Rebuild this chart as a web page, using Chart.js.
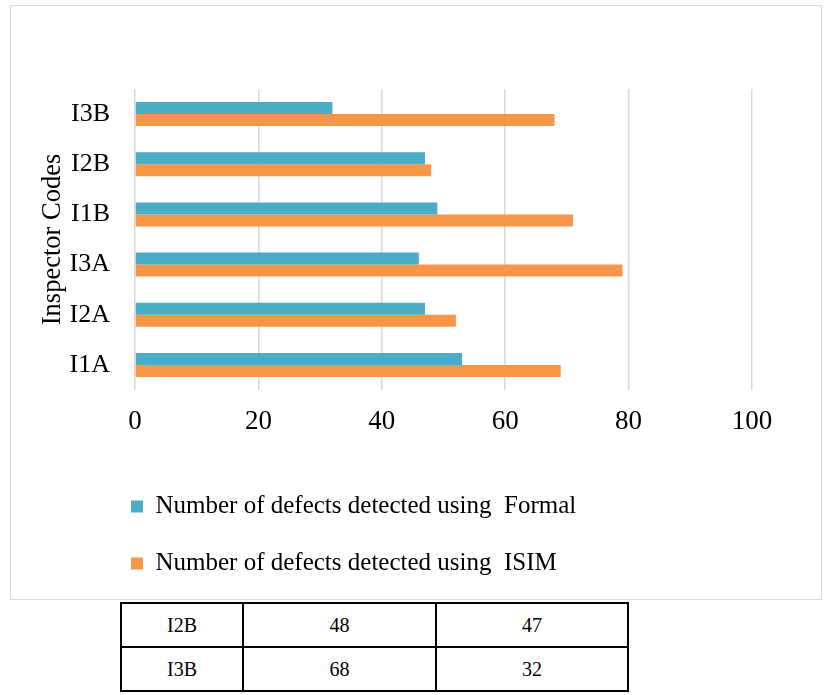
<!DOCTYPE html>
<html>
<head>
<meta charset="utf-8">
<script src="https://cdn.jsdelivr.net/npm/chart.js@4"></script>
<style>
  body { margin: 0; background: #fff; width: 824px; height: 695px; overflow: hidden; position: relative; }
  #box { position: absolute; left: 10px; top: 5px; width: 810px; height: 593px; border: 1px solid #d9d9d9; }
  #box canvas { display: block; }
  table { position: absolute; left: 120px; top: 602px; border-collapse: collapse; font-family: "Liberation Serif", serif; font-size: 20px; }
  td { border: 2px solid #000; height: 42px; text-align: center; padding: 0; }
</style>
</head>
<body>
<div id="box"><canvas id="defects" width="810" height="593"></canvas></div>
<table>
  <tr><td style="width:120px">I2B</td><td style="width:191px">48</td><td style="width:190px">47</td></tr>
  <tr><td>I3B</td><td>68</td><td>32</td></tr>
</table>
<script>
// inspectors, listed top to bottom as on the axis
var inspectors = ['I3B', 'I2B', 'I1B', 'I3A', 'I2A', 'I1A']
var formal_defects = [32, 47, 49, 46, 47, 53]
var isim_defects = [68, 48, 71, 79, 52, 69]

var serif = 'Liberation Serif'

// nudge the legend rows to the right so they sit under the plot
var legendShift = {
  id: 'legendShift',
  afterLayout(chart) {
    chart.legend.left += 88
    chart.legend.right += 88
  }
}

var defects_chart = new Chart(document.getElementById('defects').getContext('2d'), {
  type: 'bar',
  data: {
    labels: inspectors,
    datasets: [{
      label: 'Number of defects detected using  Formal',
      data: formal_defects,
      backgroundColor: '#4bacc6'
    }, {
      label: 'Number of defects detected using  ISIM',
      data: isim_defects,
      backgroundColor: '#f79646'
    }]
  },
  options: {
    indexAxis: 'y',
    responsive: false,
    animation: false,
    categoryPercentage: 0.48,
    barPercentage: 1.0,
    layout: { padding: { top: 83, right: 69, left: 0, bottom: 13 } },
    scales: {
      x: {
        min: 0,
        max: 100,
        ticks: { stepSize: 20, color: '#000', padding: 16, font: { family: serif, size: 27 } },
        grid: { color: '#d9d9d9', lineWidth: 1.5, drawTicks: false },
        border: { display: false },
        afterFit(scale) { scale.height = 72 }
      },
      y: {
        ticks: { color: '#000', padding: 25, font: { family: serif, size: 26 } },
        grid: { display: false, drawTicks: false },
        border: { display: false },
        title: {
          display: true,
          text: 'Inspector Codes',
          color: '#000',
          padding: { top: 26, bottom: 0 },
          font: { family: serif, size: 26.5 }
        },
        afterFit(scale) { scale.width = 124 }
      }
    },
    plugins: {
      legend: {
        position: 'bottom',
        align: 'start',
        labels: {
          boxWidth: 12,
          boxHeight: 12,
          padding: 32,
          color: '#000',
          font: { family: serif, size: 25 }
        }
      },
      tooltip: { enabled: false }
    }
  },
  plugins: [legendShift]
})
</script>
</body>
</html>
